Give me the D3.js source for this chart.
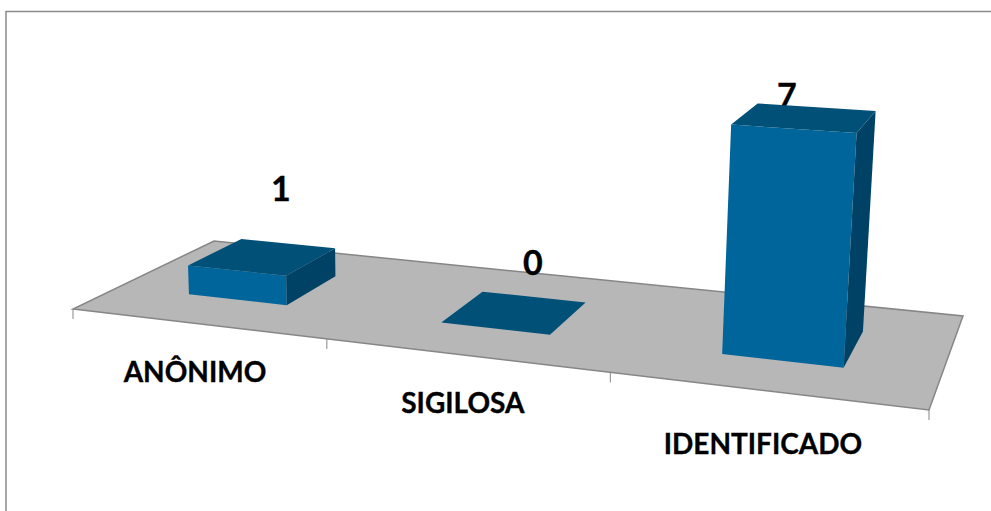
<!DOCTYPE html>
<html lang="en">
<head>
<meta charset="UTF-8">
<title>Grafico 3D</title>
<script src="https://cdnjs.cloudflare.com/ajax/libs/d3/7.8.5/d3.min.js"></script>
<style>
  html, body { margin: 0; padding: 0; background: #fff; }
  svg { display: block; }
  text { font-family: Lato, "Open Sans", sans-serif; font-weight: 700; fill: #000; stroke: #000; stroke-width: 0.35px; }
</style>
</head>
<body>
<div id="container"></div>
<script>
// chart data
const categories = ["ANÔNIMO", "SIGILOSA", "IDENTIFICADO"];
const values = [1, 0, 7];

// picture size and floor corners (front left, front right, back right, back left)
const width = 991, height = 511;
const corners = [[73, 309], [929, 410], [963, 316], [214, 241]];

// layout tweaks for the text
const labelDrop = [50, 49, 55];
const valueOffset = [[18, -68], [18, -49], [-18, -22]];

// unit square -> floor homography
function homography(c) {
    const [[x0, y0], [x1, y1], [x2, y2], [x3, y3]] = c;
    const dx1 = x1 - x2, dx2 = x3 - x2, sx = x0 - x1 + x2 - x3;
    const dy1 = y1 - y2, dy2 = y3 - y2, sy = y0 - y1 + y2 - y3;
    const det = dx1 * dy2 - dx2 * dy1;
    const g = (sx * dy2 - dx2 * sy) / det;
    const h = (dx1 * sy - sx * dy1) / det;
    return {
        a: x1 - x0 + g * x1, b: x3 - x0 + h * x3, c: x0,
        d: y1 - y0 + g * y1, e: y3 - y0 + h * y3, f: y0,
        g: g, h: h
    };
}
const H = homography(corners);

// scales work in floor units, the value scale in homogeneous height
const x = d3.scaleBand().domain(categories).range([-0.002, 0.998]).paddingInner(0.6).paddingOuter(0.3);
const depth = d3.scaleLinear().domain([0, 1]).range([0.3, 0.7]);
const z = d3.scaleLinear().domain([0, 7]).range([0, -0.0272]);
const nadir = [426, 7929]; // where the verticals meet

function project(u, v, val) {
    const w = H.g * u + H.h * v + 1;
    const k = z(val);
    const px = H.a * u + H.b * v + H.c + k * nadir[0];
    const py = H.d * u + H.e * v + H.f + k * nadir[1];
    return [px / (w + k), py / (w + k)];
}

const svg = d3.select("#container").append("svg")
    .attr("width", width)
    .attr("height", height)
    .attr("viewBox", `0 0 ${width} ${height}`);

const line = d3.line();
const closed = pts => line(pts) + "Z";

// frame of the chart area, only top and left are visible
svg.append("path")
    .attr("d", line([[6, 511], [6, 11.5], [991, 11.5]]))
    .attr("fill", "none")
    .attr("stroke", "#8a8a8a")
    .attr("stroke-width", 1.5);

// floor
svg.append("path")
    .attr("d", closed(corners))
    .attr("fill", "#b7b7b7")
    .attr("stroke", "#868686")
    .attr("stroke-width", 1.5);

// ticks under the front edge
const tickPos = d3.range(categories.length + 1).map(i => i * x.step());
svg.selectAll("path.tick")
    .data(tickPos)
    .join("path")
    .attr("class", "tick")
    .attr("d", d => {
        const p = project(d, 0, 0);
        return line([p, [p[0], p[1] + 10]]);
    })
    .attr("fill", "none")
    .attr("stroke", "#868686")
    .attr("stroke-width", 1);

// value labels go under the bars, the 7 is partly hidden by its bar
svg.selectAll("text.value")
    .data(categories)
    .join("text")
    .attr("class", "value")
    .attr("text-anchor", "middle")
    .attr("font-size", 34)
    .attr("x", (d, i) => project(x(d) + x.bandwidth() / 2, 0.5, values[i])[0] + valueOffset[i][0])
    .attr("y", (d, i) => project(x(d) + x.bandwidth() / 2, 0.5, values[i])[1] + valueOffset[i][1] + 12)
    .text((d, i) => values[i]);

// bars: front, side, top
const bars = svg.selectAll("g.bar")
    .data(categories)
    .join("g")
    .attr("class", "bar");

function face(d, i, kind) {
    const u0 = x(d), u1 = x(d) + x.bandwidth();
    const v0 = depth(0), v1 = depth(1), val = values[i];
    if (kind === "front") return closed([project(u0, v0, 0), project(u1, v0, 0), project(u1, v0, val), project(u0, v0, val)]);
    if (kind === "side") return closed([project(u1, v0, 0), project(u1, v1, 0), project(u1, v1, val), project(u1, v0, val)]);
    return closed([project(u0, v0, val), project(u1, v0, val), project(u1, v1, val), project(u0, v1, val)]);
}

bars.append("path").attr("d", (d, i) => face(d, i, "front")).attr("fill", "#00659b");
bars.append("path").attr("d", (d, i) => face(d, i, "side")).attr("fill", "#004266");
bars.append("path").attr("d", (d, i) => face(d, i, "top")).attr("fill", "#005077");

// category labels
svg.selectAll("text.cat")
    .data(categories)
    .join("text")
    .attr("class", "cat")
    .attr("text-anchor", "middle")
    .attr("font-size", 28)
    .attr("x", d => project(x(d) + x.bandwidth() / 2, 0, 0)[0])
    .attr("y", (d, i) => project(x(d) + x.bandwidth() / 2, 0, 0)[1] + labelDrop[i] + 9)
    .text(d => d);
</script>
</body>
</html>
